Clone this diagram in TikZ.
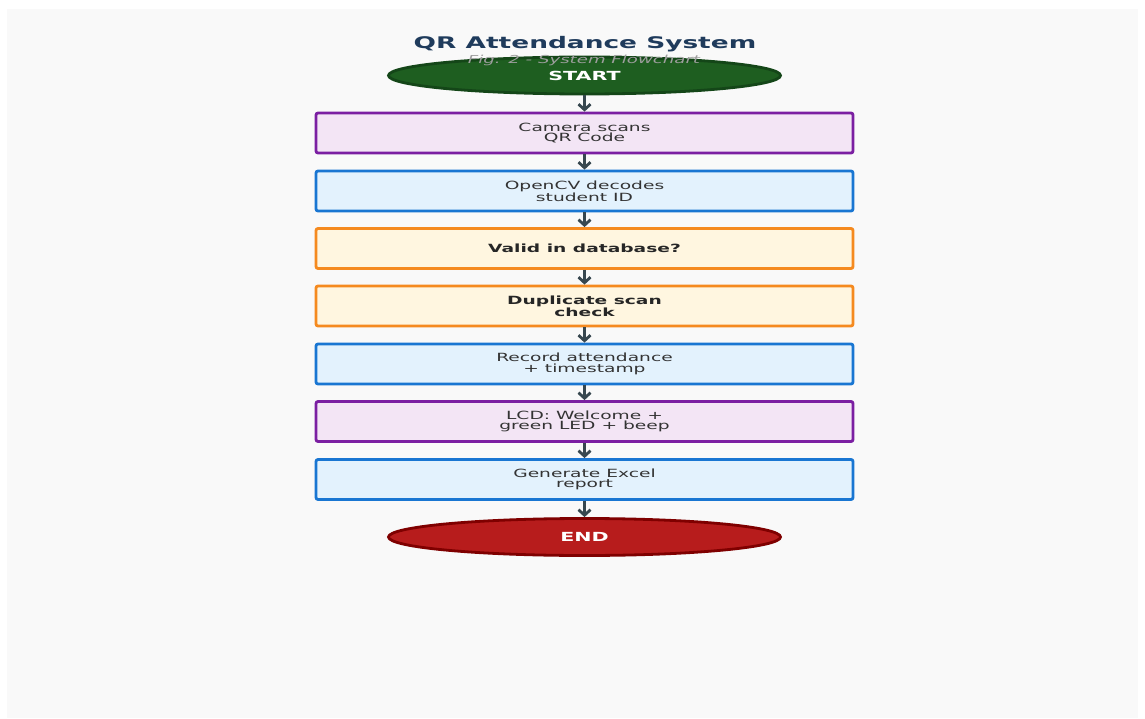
\documentclass[tikz,border=0pt]{standalone}
\usepackage{fontspec}
\usetikzlibrary{shapes.geometric,arrows.meta}
\newfontfamily\flowfont[FakeStretch=1.65]{DejaVu Sans}
\definecolor{pagegray}{HTML}{F9F9F9}
\definecolor{titleblue}{HTML}{1F3B5C}
\definecolor{arrowgray}{HTML}{37474F}
\definecolor{txtgray}{HTML}{333333}
\definecolor{startfill}{HTML}{1E5E20}
\definecolor{startline}{HTML}{144618}
\definecolor{endfill}{HTML}{B71C1C}
\definecolor{endline}{HTML}{7F0000}
\definecolor{purplefill}{HTML}{F3E5F5}
\definecolor{purpleline}{HTML}{7B1FA2}
\definecolor{bluefill}{HTML}{E3F2FD}
\definecolor{blueline}{HTML}{1976D2}
\definecolor{orangefill}{HTML}{FFF6E0}
\definecolor{orangeline}{HTML}{F58A1F}
\tikzset{
	flowbox/.style={rectangle,rounded corners=2pt,line width=2.8pt,minimum width=537pt,minimum height=40pt,inner sep=0pt,align=center,text=txtgray,font=\flowfont\fontsize{11.3}{10.5}\selectfont},
	purplebox/.style={flowbox,draw=purpleline,fill=purplefill},
	bluebox/.style={flowbox,draw=blueline,fill=bluefill},
	decisionbox/.style={flowbox,draw=orangeline,fill=orangefill,text=black!85,font=\flowfont\bfseries\fontsize{11.3}{10.5}\selectfont},
	terminal/.style={ellipse,line width=2.8pt,minimum width=392pt,minimum height=37pt,inner sep=0pt,text=white,font=\flowfont\bfseries\fontsize{12.5}{13}\selectfont},
	flowarrow/.style={line width=2.8pt,draw=arrowgray,-{Straight Barb[length=5.5pt,width=12pt]}}
}
\begin{document}
\begin{tikzpicture}[x=1pt,y=-1pt]
		\useasboundingbox (0,0) rectangle (1145,719);
		\fill[white] (0,0) rectangle (1145,719);
		\fill[pagegray] (7,9) rectangle (1138,718);
		% title
		\node[text=titleblue,font=\flowfont\bfseries\fontsize{16}{18}\selectfont] (title) at (585,44.5) {QR Attendance System};
		% flow
		\node[terminal,draw=startline,fill=startfill] (start) at (584.5,75.5) {START};
		\node[text=black!38,font=\flowfont\itshape\fontsize{11}{12}\selectfont] (subtitle) at (584,60) {Fig. 2 - System Flowchart};
		\node[purplebox] (scan) at (584.5,133) {Camera scans\\QR Code};
		\node[bluebox] (decode) at (584.5,191) {OpenCV decodes\\student ID};
		\node[decisionbox] (valid) at (584.5,248.5) {Valid in database?};
		\node[decisionbox] (dup) at (584.5,306) {Duplicate scan\\check};
		\node[bluebox] (record) at (584.5,364) {Record attendance\\+ timestamp};
		\node[purplebox] (lcd) at (584.5,421.5) {LCD: Welcome +\\green LED + beep};
		\node[bluebox] (report) at (584.5,479.5) {Generate Excel\\report};
		\node[terminal,draw=endline,fill=endfill] (end) at (584.5,537) {END};
		\foreach \a/\b in {start/scan,scan/decode,decode/valid,valid/dup,dup/record,record/lcd,lcd/report,report/end}
		\draw[flowarrow] (\a) -- (\b);
	\end{tikzpicture}
\end{document}
